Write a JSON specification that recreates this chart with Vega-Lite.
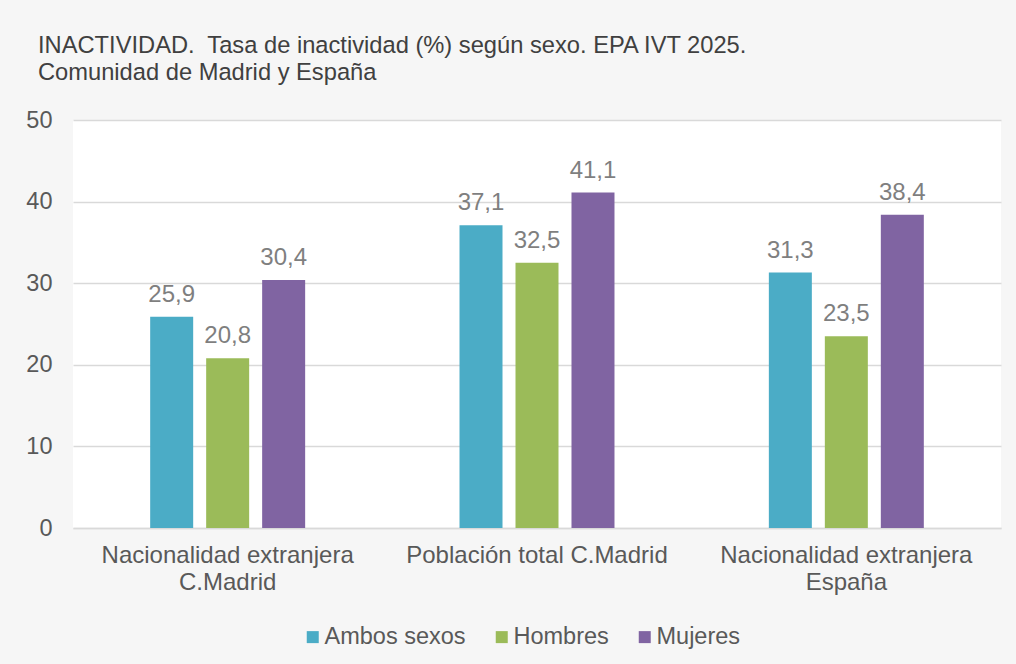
{
  "$schema": "https://vega.github.io/schema/vega-lite/v6.json",
  "autosize": {"type": "none"},
  "width": 928,
  "height": 408,
  "padding": {"left": 73, "top": 120, "right": 15, "bottom": 136},
  "background": "#f6f6f6",
  "config": {
    "font": "Liberation Sans",
    "view": {"fill": "white", "stroke": null},
    "locale": {"number": {"decimal": ",", "thousands": ".", "grouping": [3], "currency": ["", " €"]}}
  },
  "title": {
    "text": ["INACTIVIDAD.\u00a0 Tasa de inactividad (%) según sexo. EPA IVT 2025.", "Comunidad de Madrid y España"],
    "anchor": "start",
    "frame": "group",
    "dx": -35,
    "offset": 23,
    "fontSize": 23.7,
    "fontWeight": "normal",
    "color": "#404040",
    "lineHeight": 27
  },
  "data": {
    "values": [
      {"grupo": "Nacionalidad extranjera C.Madrid", "sexo": "Ambos sexos", "tasa": 25.9},
      {"grupo": "Nacionalidad extranjera C.Madrid", "sexo": "Hombres", "tasa": 20.8},
      {"grupo": "Nacionalidad extranjera C.Madrid", "sexo": "Mujeres", "tasa": 30.4},
      {"grupo": "Población total C.Madrid", "sexo": "Ambos sexos", "tasa": 37.1},
      {"grupo": "Población total C.Madrid", "sexo": "Hombres", "tasa": 32.5},
      {"grupo": "Población total C.Madrid", "sexo": "Mujeres", "tasa": 41.1},
      {"grupo": "Nacionalidad extranjera España", "sexo": "Ambos sexos", "tasa": 31.3},
      {"grupo": "Nacionalidad extranjera España", "sexo": "Hombres", "tasa": 23.5},
      {"grupo": "Nacionalidad extranjera España", "sexo": "Mujeres", "tasa": 38.4}
    ]
  },
  "encoding": {
    "x": {
      "field": "grupo",
      "type": "nominal",
      "sort": null,
      "scale": {"paddingInner": 0.137, "paddingOuter": 0.0685},
      "axis": {
        "title": null,
        "labelAngle": 0,
        "ticks": false,
        "domainColor": "#d9d9d9",
        "domainWidth": 1.5,
        "labelFontSize": 24,
        "labelColor": "#595959",
        "labelPadding": 15,
        "labelLineHeight": 27,
        "labelLimit": 0,
        "labelExpr": "datum.value == 'Población total C.Madrid' ? datum.value : [slice(datum.value, 0, 23), slice(datum.value, 24)]"
      }
    },
    "xOffset": {
      "field": "sexo",
      "type": "nominal",
      "sort": ["Ambos sexos", "Hombres", "Mujeres"],
      "scale": {"paddingInner": 0.232, "paddingOuter": 1}
    },
    "y": {
      "field": "tasa",
      "type": "quantitative",
      "scale": {"domain": [0, 50]},
      "axis": {
        "title": null,
        "values": [0, 10, 20, 30, 40, 50],
        "ticks": false,
        "domain": false,
        "gridColor": "#d9d9d9",
        "gridWidth": 1.5,
        "labelFontSize": 23.5,
        "labelColor": "#595959",
        "labelPadding": 21
      }
    }
  },
  "layer": [
    {
      "mark": {"type": "bar"},
      "encoding": {
        "color": {
          "field": "sexo",
          "type": "nominal",
          "sort": ["Ambos sexos", "Hombres", "Mujeres"],
          "scale": {"domain": ["Ambos sexos", "Hombres", "Mujeres"], "range": ["#4bacc6", "#9bbb59", "#8064a2"]},
          "legend": {
            "title": null,
            "orient": "none",
            "direction": "horizontal",
            "legendX": 228,
            "legendY": 505,
            "symbolType": "square",
            "symbolSize": 144,
            "symbolStrokeWidth": 0,
            "labelFontSize": 23.5,
            "labelColor": "#595959",
            "labelOffset": 0,
            "columnPadding": 24
          }
        }
      }
    },
    {
      "mark": {"type": "text", "baseline": "alphabetic", "dy": -15, "fontSize": 24, "color": "#7f7f7f"},
      "encoding": {
        "text": {"field": "tasa", "type": "quantitative", "format": ".1f", "formatType": "number"}
      }
    }
  ]
}
